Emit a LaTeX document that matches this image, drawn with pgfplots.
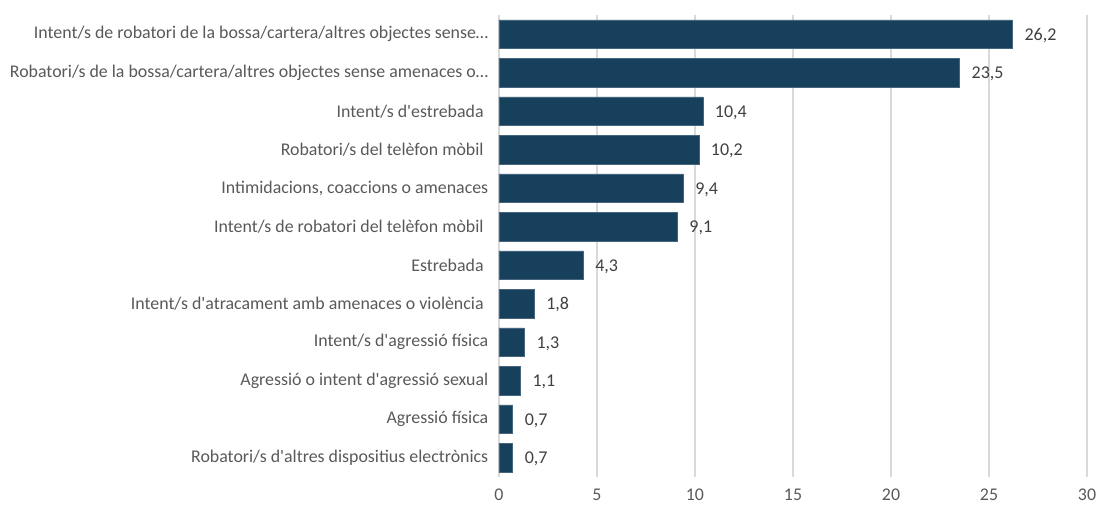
\documentclass[border=0pt]{standalone}
\usepackage{pgfplots}
\pgfplotsset{compat=1.18}
\usepackage{fontspec}
\setmainfont{Carlito}[Ligatures=TeXOff]
\definecolor{barc}{HTML}{17405C}
\definecolor{gridc}{HTML}{D9D9D9}
\definecolor{txtc}{HTML}{595959}
\definecolor{valc}{HTML}{404040}
\newcommand{\tsp}{\rule{3.5pt}{0pt}}
\begin{document}
\begin{tikzpicture}[x=1pt,y=1pt]
\begin{axis}[
  at={(0,0)}, anchor=south west,
  scale only axis,
  width=441pt, height=346.5pt,
  xbar, bar width=21.5pt,
  xmin=0, xmax=30,
  ymin=-0.5, ymax=11.5,
  y dir=reverse,
  xtick={0,5,...,30},
  ytick={0,...,11},
  yticklabels={
    {Intent/s de robatori de la bossa/cartera/altres objectes sense…},
    {Robatori/s de la bossa/cartera/altres objectes sense amenaces o…},
    {Intent/s d'estrebada\tsp},
    {Robatori/s del telèfon mòbil\tsp},
    {Intimidacions, coaccions o amenaces},
    {Intent/s de robatori del telèfon mòbil\tsp},
    {Estrebada\tsp},
    {Intent/s d'atracament amb amenaces o violència\tsp},
    {Intent/s d'agressió física},
    {Agressió o intent d'agressió sexual},
    {Agressió física},
    {Robatori/s d'altres dispositius electrònics}},
  axis line style={draw=none},
  major tick length=0pt,
  xmajorgrids, grid style={gridc, line width=0.9pt},
  tick label style={font=\fontsize{13.4}{15}\selectfont, text=txtc},
  /pgf/number format/assume math mode=true,
  xticklabel style={yshift=-5.5pt},
  yticklabel style={xshift=-4.5pt},
  nodes near coords,
  nodes near coords style={font=\fontsize{13.5}{15}\selectfont, text=valc, xshift=5.5pt, yshift=-0.8pt,
    /pgf/number format/.cd, use comma, fixed, fixed zerofill, precision=1, assume math mode=true},
  clip=false,
]
\addplot[fill=barc, draw=barc!80!white, line width=0.4pt] coordinates {
  (26.2,0) (23.5,1) (10.4,2) (10.2,3) (9.4,4) (9.1,5)
  (4.3,6) (1.8,7) (1.3,8) (1.1,9) (0.7,10) (0.7,11)};
\end{axis}
\pgfresetboundingbox
\path[use as bounding box] (-374.25pt,-21.75pt) rectangle (449.25pt,357.75pt);
\end{tikzpicture}
\end{document}
